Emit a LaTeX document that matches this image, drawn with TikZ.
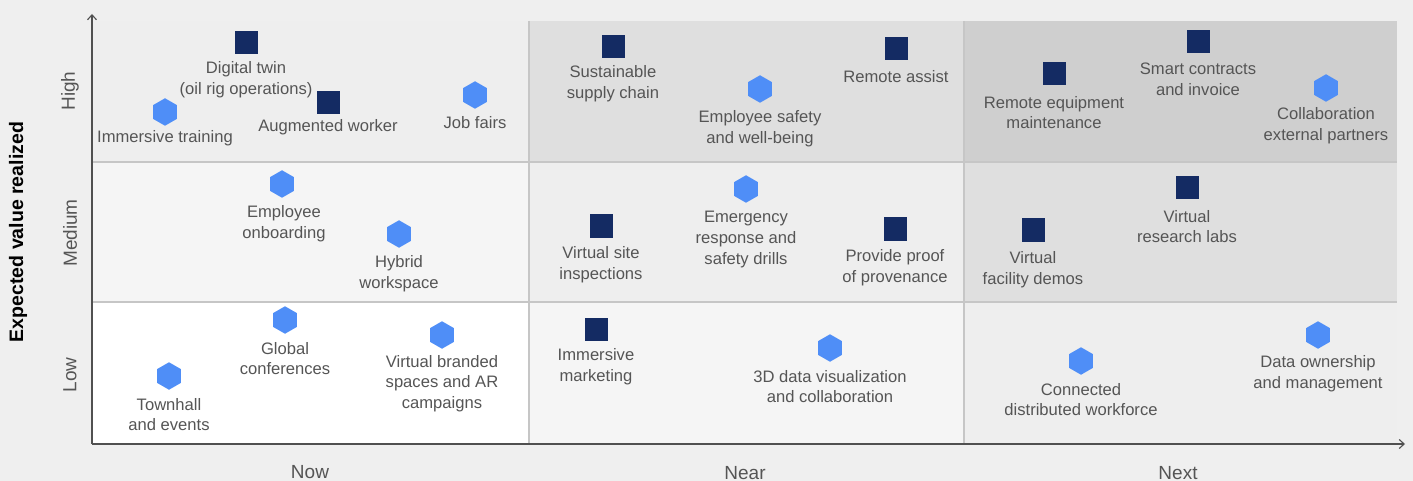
\documentclass[tikz,border=0pt]{standalone}
\usepackage{fontspec}
\setmainfont{Liberation Sans}
\usetikzlibrary{shapes.geometric,arrows.meta}
\definecolor{bgc}{HTML}{EFEFEF}
\definecolor{cwhite}{HTML}{FFFFFF}
\definecolor{cA}{HTML}{F5F5F5}
\definecolor{cB}{HTML}{EEEEEE}
\definecolor{cC}{HTML}{DFDFDF}
\definecolor{cD}{HTML}{CFCFCF}
\definecolor{gridc}{HTML}{C6C6C6}
\definecolor{axisc}{HTML}{505050}
\definecolor{navy}{HTML}{142B63}
\definecolor{hexblue}{HTML}{4F8EF7}
\definecolor{labc}{HTML}{555555}
\begin{document}
\begin{tikzpicture}[x=1pt,y=-1pt,
  sq/.style={rectangle,fill=navy,draw=none,minimum size=23pt,inner sep=0pt},
  hexa/.style={regular polygon,regular polygon sides=6,rotate=30,fill=hexblue,draw=none,minimum size=27.5pt,inner sep=0pt},
  lab/.style={align=center,text=labc,font=\fontsize{16.6}{20.6}\selectfont,inner sep=0pt,yshift=-1.5pt},
  axlab/.style={text=labc,font=\fontsize{19}{22}\selectfont,inner sep=0pt},
  gridline/.style={draw=gridc,line width=1.4pt},
  axisline/.style={draw=axisc,line width=1.1pt,-{Straight Barb[length=5pt,width=9pt]}}]
\useasboundingbox (0,0) rectangle (1413,481);
\fill[bgc] (0,0) rectangle (1413,481);
% cells
\fill[cB] (92,21) rectangle (529,162);
\fill[cC] (529,21) rectangle (964,162);
\fill[cD] (964,21) rectangle (1397,162);
\fill[cA] (92,162) rectangle (529,302);
\fill[cB] (529,162) rectangle (964,302);
\fill[cC] (964,162) rectangle (1397,302);
\fill[cwhite] (92,302) rectangle (529,444);
\fill[cA] (529,302) rectangle (964,444);
\fill[cB] (964,302) rectangle (1397,444);
% grid
\draw[gridline] (529,21) -- (529,444);
\draw[gridline] (964,21) -- (964,444);
\draw[gridline] (92,162) -- (1397,162);
\draw[gridline] (92,302) -- (1397,302);
% axes
\coordinate (origin) at (92,444);
\coordinate (ytip) at (92,14);
\coordinate (xtip) at (1405,444);
\draw[axisline] (origin) -- (ytip);
\draw[axisline] (origin) -- (xtip);
% axis labels
\node[axlab,rotate=90] (high) at (70,91) {High};
\node[axlab,rotate=90] (medium) at (70,233) {Medium};
\node[axlab,rotate=90] (low) at (70,375) {Low};
\node[rotate=90,inner sep=0pt,font=\fontsize{19.5}{22}\selectfont\bfseries,text=black] (ylab) at (18,232) {Expected value realized};
\node[axlab] (now) at (310,472) {Now};
\node[axlab] (near) at (745,473) {Near};
\node[axlab] (next) at (1178,473) {Next};
% High / Now
\node[sq] (m1) at (246,43) {};
\node[lab] (t1) at (246,78) {Digital twin\\(oil rig operations)};
\node[sq] (m2) at (328,103) {};
\node[lab] (t2) at (328,126) {Augmented worker};
\node[hexa] (m3) at (165,112) {};
\node[lab] (t3) at (165,137) {Immersive training};
\node[hexa] (m4) at (475,95) {};
\node[lab] (t4) at (475,121) {Job fairs};
% High / Near
\node[sq] (m5) at (613,47) {};
\node[lab] (t5) at (613,82) {Sustainable\\supply chain};
\node[hexa] (m6) at (760,89) {};
\node[lab] (t6) at (760,127) {Employee safety\\and well-being};
\node[sq] (m7) at (896,49) {};
\node[lab] (t7) at (896,75) {Remote assist};
% High / Next
\node[sq] (m8) at (1054,74) {};
\node[lab] (t8) at (1054,111) {Remote equipment\\maintenance};
\node[sq] (m9) at (1198,42) {};
\node[lab] (t9) at (1198,78) {Smart contracts\\and invoice};
\node[hexa] (m10) at (1326,88) {};
\node[lab] (t10) at (1326,124) {Collaboration\\external partners};
% Medium / Now
\node[hexa] (m11) at (282,184) {};
\node[lab] (t11) at (284,222) {Employee\\onboarding};
\node[hexa] (m12) at (399,234) {};
\node[lab] (t12) at (399,272) {Hybrid\\workspace};
% Medium / Near
\node[sq] (m13) at (601,226) {};
\node[lab] (t13) at (601,263) {Virtual site\\inspections};
\node[hexa] (m14) at (746,189) {};
\node[lab] (t14) at (746,238) {Emergency\\response and\\safety drills};
\node[sq] (m15) at (895,229) {};
\node[lab] (t15) at (895,266) {Provide proof\\of provenance};
% Medium / Next
\node[sq] (m16) at (1033,230) {};
\node[lab] (t16) at (1033,268) {Virtual\\facility demos};
\node[sq] (m17) at (1187,188) {};
\node[lab] (t17) at (1187,225) {Virtual\\research labs};
% Low / Now
\node[hexa] (m18) at (169,376) {};
\node[lab] (t18) at (169,413) {Townhall\\and events};
\node[hexa] (m19) at (285,320) {};
\node[lab] (t19) at (285,357) {Global\\conferences};
\node[hexa] (m20) at (442,335) {};
\node[lab] (t20) at (442,382) {Virtual branded\\spaces and AR\\campaigns};
% Low / Near
\node[sq] (m21) at (596,329) {};
\node[lab] (t21) at (596,365) {Immersive\\marketing};
\node[hexa] (m22) at (830,348) {};
\node[lab] (t22) at (830,385) {3D data visualization\\and collaboration};
% Low / Next
\node[hexa] (m23) at (1081,361) {};
\node[lab] (t23) at (1081,398) {Connected\\distributed workforce};
\node[hexa] (m24) at (1318,335) {};
\node[lab] (t24) at (1318,372) {Data ownership\\and management};
\end{tikzpicture}
\end{document}
